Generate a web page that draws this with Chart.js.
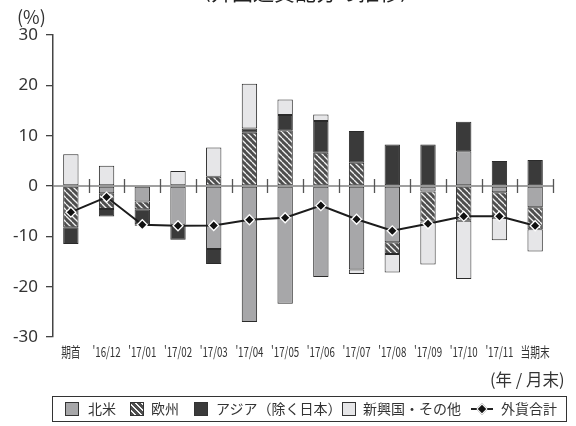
<!DOCTYPE html>
<html lang="ja">
<head>
<meta charset="utf-8">
<script src="https://cdn.jsdelivr.net/npm/chart.js@4.4.1/dist/chart.umd.min.js"></script>
<style>
  html, body { margin: 0; padding: 0; background: #fff; }
  body { width: 576px; height: 426px; position: relative; overflow: hidden;
         font-family: 'Noto Sans CJK JP', 'Noto Sans', sans-serif; color: #333; }
  #wrap { position: absolute; left: 0; top: 0; width: 576px; height: 426px; }
  .title { position: absolute; left: 190px; top: -19px; font-size: 21px; line-height: 21px; color: #222; white-space: nowrap; }
  .unit { position: absolute; left: 17px; top: 3px; font-size: 18px; color: #333; }
  .xunit { position: absolute; left: 490px; top: 367px; font-size: 16.5px; color: #333; white-space: nowrap; }
  .legend { position: absolute; left: 52px; top: 396px; width: 513px; height: 24px; border: 1px solid #333; font-size: 14px; }
  .legend .sw { position: absolute; top: 5px; width: 12px; height: 12px; border: 1px solid #333; }
  .legend .tx { position: absolute; top: 2px; line-height: 19px; white-space: nowrap; color: #333; }
  .sym { position: absolute; top: 7px; width: 22px; height: 10px; }
  .sym::before { content: ''; position: absolute; left: 0; right: 0; top: 4px; height: 2px; background: #222; }
  .sym::after { content: ''; position: absolute; left: 7px; top: 1px; width: 6px; height: 6px; background: #111; border: 1px solid #fff; transform: rotate(45deg); }
</style>
</head>
<body>
<div id="wrap"><canvas id="chart" width="576" height="426"></canvas></div>
<div class="title">〈外国通貨配分の推移〉</div>
<div class="unit">(%)</div>
<div class="xunit">(年 / 月末)</div>
<div class="legend">
  <span class="sw" style="left:12px;background:#a7a7a9"></span><span class="tx" style="left:35px">北米</span>
  <span class="sw" style="left:77px;background:repeating-linear-gradient(45deg,#4e4e4e 0 2.6px,#f4f4f4 2.6px 4.2px)"></span><span class="tx" style="left:98px">欧州</span>
  <span class="sw" style="left:141px;background:#3a3a3a"></span><span class="tx" style="left:163px">アジア（除く日本）</span>
  <span class="sw" style="left:289px;background:#e6e6e8"></span><span class="tx" style="left:310px">新興国・その他</span>
  <span class="sym" style="left:418px"></span><span class="tx" style="left:448px">外貨合計</span>
</div>
<script>
// 外国通貨配分の推移（地域別の寄与と外貨合計）
const categories = ['期首', "'16/12", "'17/01", "'17/02", "'17/03", "'17/04", "'17/05", "'17/06", "'17/07", "'17/08", "'17/09", "'17/10", "'17/11", '当期末'];
const northAmerica = [null, -1.45, -3.1, -7.7, -12.5, -27.0, -23.4, -18.1, -16.6, -11.2, -1.1, 6.9, -1.25, -4.2];
const europe = [-8.2, -3.1, -1.5, null, 1.85, 10.6, 11.1, 6.6, 4.6, -2.3, -5.95, -6.9, -5.05, -4.4];
const asiaExJapan = [-3.3, -1.5, -3.0, -3.0, -3.0, 0.8, 3.0, 6.3, 6.35, 8.25, 8.25, 5.85, 4.95, 5.15];
const emergingOther = [6.3, 4.0, -0.3, 3.0, 5.8, 8.9, 3.1, 1.3, -0.9, -3.7, -8.55, -11.6, -4.5, -4.4];
const foreignTotal = [-5.2, -2.2, -7.7, -7.9, -7.85, -6.7, -6.3, -3.9, -6.6, -8.9, -7.5, -6.0, -6.0, -7.9];
const yTicks = [-30, -20, -10, 0, 10, 20, 30];

function makeHatch() {
  const c = document.createElement('canvas');
  c.width = 6;
  c.height = 6;
  const g = c.getContext('2d');
  g.fillStyle = '#4e4e4e';
  g.fillRect(0, 0, 6, 6);
  g.strokeStyle = '#f2f2f2';
  g.lineWidth = 1.3;
  [-6, 0, 6].forEach((off) => {
    g.beginPath();
    g.moveTo(0, off);
    g.lineTo(6, 6 + off);
    g.stroke();
  });
  return g.createPattern(c, 'repeat');
}

// ゼロ線と区切りの目盛り
const zeroLinePlugin = {
  id: 'zeroLinePlugin',
  beforeDatasetsDraw(chart) {
    const x = chart.scales.x;
    const y = chart.scales.y;
    const ctx = chart.ctx;
    const y0 = y.getPixelForValue(0);
    ctx.save();
    ctx.strokeStyle = '#808080';
    ctx.lineWidth = 1.6;
    ctx.beginPath();
    ctx.moveTo(x.left, y0);
    ctx.lineTo(x.right, y0);
    ctx.stroke();
    ctx.strokeStyle = '#555';
    ctx.lineWidth = 1.3;
    const step = (x.right - x.left) / categories.length;
    for (let i = 1; i <= categories.length; i++) {
      const px = Math.round(x.left + step * i) + 0.5;
      ctx.beginPath();
      ctx.moveTo(px, y0 - 7);
      ctx.lineTo(px, y0 + 7);
      ctx.stroke();
    }
    ctx.restore();
  }
};

// 横軸ラベル（縦長の字形に近づけるため横方向に圧縮して描く）
const narrowLabelsPlugin = {
  id: 'narrowLabelsPlugin',
  afterDraw(chart) {
    const x = chart.scales.x;
    const ctx = chart.ctx;
    ctx.save();
    ctx.fillStyle = '#333';
    ctx.font = "13.5px 'Noto Sans CJK JP', sans-serif";
    ctx.textAlign = 'center';
    ctx.textBaseline = 'middle';
    categories.forEach((label, i) => {
      ctx.save();
      ctx.translate(x.getPixelForTick(i), x.top + 15);
      ctx.scale(0.72, 1);
      ctx.fillText(label, 0, 0);
      ctx.restore();
    });
    ctx.restore();
  }
};

const barBase = {
  type: 'bar',
  borderColor: '#2a2a2a',
  borderWidth: 1,
  borderSkipped: false,
  barPercentage: 0.43,
  categoryPercentage: 1,
  stack: 'region',
  order: 1
};

new Chart(document.getElementById('chart'), {
  data: {
    labels: categories,
    datasets: [
      Object.assign({}, barBase, { label: '北米', data: northAmerica, backgroundColor: '#a7a7a9' }),
      Object.assign({}, barBase, { label: '欧州', data: europe, backgroundColor: makeHatch() }),
      Object.assign({}, barBase, { label: 'アジア（除く日本）', data: asiaExJapan, backgroundColor: '#3a3a3a' }),
      Object.assign({}, barBase, { label: '新興国・その他', data: emergingOther, backgroundColor: '#e6e6e8' }),
      {
        type: 'line',
        label: '外貨合計',
        data: foreignTotal,
        borderColor: '#1c1c1c',
        borderWidth: 2,
        pointStyle: 'rectRot',
        pointRadius: 5,
        pointBackgroundColor: '#111',
        pointBorderColor: '#fff',
        pointBorderWidth: 1.3,
        tension: 0,
        order: 0
      }
    ]
  },
  options: {
    responsive: false,
    animation: false,
    events: [],
    layout: { padding: { left: 0, top: 35, right: 23, bottom: 0 } },
    plugins: { legend: { display: false }, tooltip: { enabled: false } },
    scales: {
      x: {
        stacked: true,
        grid: { display: false, drawTicks: false },
        border: { display: false },
        ticks: { display: false },
        afterFit(scale) { scale.height = 89; }
      },
      y: {
        stacked: true,
        min: yTicks[0],
        max: yTicks[yTicks.length - 1],
        afterBuildTicks(scale) { scale.ticks = yTicks.map((v) => ({ value: v })); },
        grid: { drawOnChartArea: false, drawTicks: true, tickLength: 7, color: '#444', lineWidth: 1.3 },
        border: { display: true, color: '#444', width: 1.5 },
        ticks: {
          padding: 8,
          color: '#333',
          font: { family: "'Noto Sans', sans-serif", size: 17 }
        },
        afterFit(scale) { scale.width = 53; }
      }
    }
  },
  plugins: [zeroLinePlugin, narrowLabelsPlugin]
});
</script>
</body>
</html>
